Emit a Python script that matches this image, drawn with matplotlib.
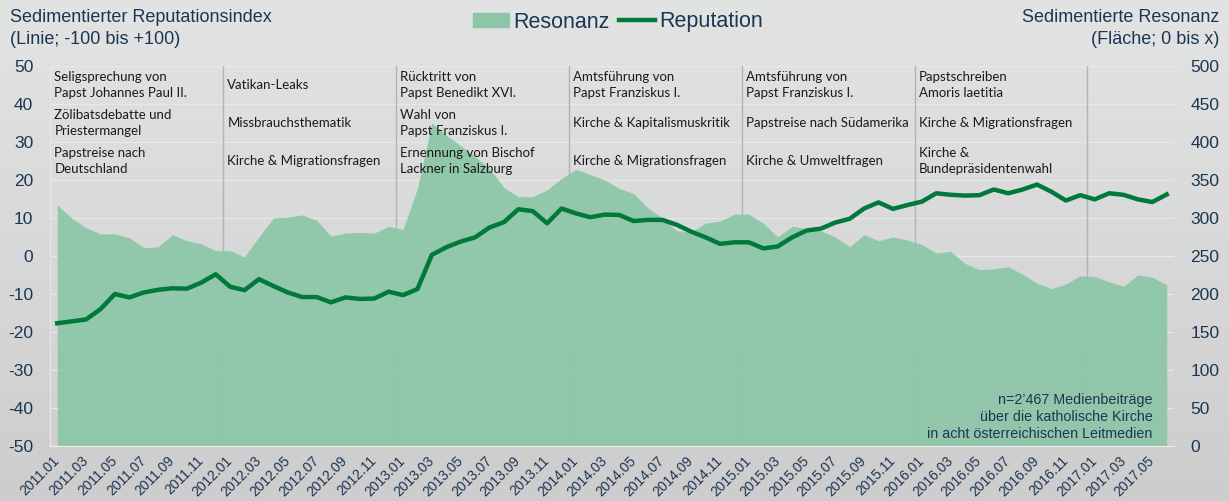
import numpy as np
import matplotlib
matplotlib.use("Agg")
import matplotlib.pyplot as plt
from matplotlib.colors import LinearSegmentedColormap
from matplotlib.patches import Patch
from matplotlib.lines import Line2D

plt.rcParams["axes.unicode_minus"] = False

# monthly values 2011.01 - 2017.06
months = [f"{y}.{m:02d}" for y in range(2011, 2018) for m in range(1, 13)][:78]

# Reputation (left axis, -100..+100)
reputation = [-17.7, -17.2, -16.7, -14.0, -10.0, -10.9, -9.6, -8.9, -8.5, -8.6,
              -7.0, -4.8, -8.1, -9.0, -6.1, -7.9, -9.6, -10.8, -10.8, -12.2,
              -10.9, -11.3, -11.2, -9.4, -10.3, -8.7, 0.3, 2.3, 3.8, 4.9,
              7.5, 8.9, 12.3, 11.8, 8.6, 12.5, 11.2, 10.2, 10.9, 10.8,
              9.2, 9.5, 9.5, 8.2, 6.4, 4.9, 3.2, 3.6, 3.6, 2.0,
              2.5, 4.9, 6.7, 7.2, 8.8, 9.8, 12.5, 14.1, 12.4, 13.4,
              14.3, 16.5, 16.1, 15.9, 16.0, 17.5, 16.5, 17.5, 18.8, 16.9,
              14.6, 16.0, 14.9, 16.5, 16.1, 14.9, 14.2, 16.2]

# Resonanz (right axis, 0..x)
resonanz = [317, 300, 287, 279, 279, 274, 261, 262, 278, 270,
            266, 257, 257, 249, 275, 300, 301, 304, 297, 276,
            280, 281, 280, 289, 285, 339, 425, 409, 395, 381,
            365, 340, 328, 328, 337, 352, 364, 357, 350, 339,
            332, 313, 300, 283, 282, 293, 296, 305, 305, 293,
            275, 289, 286, 283, 275, 262, 278, 270, 275, 271,
            265, 254, 256, 240, 232, 233, 236, 226, 214, 207,
            213, 224, 223, 216, 210, 225, 222, 212]

# topics per year (3 rows)
topics = [
    ["Seligsprechung von\nPapst Johannes Paul II.", "Zölibatsdebatte und\nPriestermangel", "Papstreise nach\nDeutschland"],
    ["Vatikan-Leaks", "Missbrauchsthematik", "Kirche & Migrationsfragen"],
    ["Rücktritt von\nPapst Benedikt XVI.", "Wahl von\nPapst Franziskus I.", "Ernennung von Bischof\nLackner in Salzburg"],
    ["Amtsführung von\nPapst Franziskus I.", "Kirche & Kapitalismuskritik", "Kirche & Migrationsfragen"],
    ["Amtsführung von\nPapst Franziskus I.", "Papstreise nach Südamerika", "Kirche & Umweltfragen"],
    ["Papstschreiben\nAmoris laetitia", "Kirche & Migrationsfragen", "Kirche &\nBundepräsidentenwahl"],
]
row_y = [45, 35, 25]

navy = "#1d3553"
area_col = "#8cc6a8"
line_col = "#00793a"

fig = plt.figure(figsize=(12.29, 5.01), dpi=100)

# gray gradient background
bg = fig.add_axes([0, 0, 1, 1], zorder=-10)
cmap = LinearSegmentedColormap.from_list("bg", ["#e2e4e3", "#cdcdcd"])
bg.imshow(np.linspace(0, 1, 256).reshape(-1, 1), aspect="auto", cmap=cmap,
          extent=[0, 1, 0, 1])
bg.axis("off")

ax2 = fig.add_axes([0.0407, 0.1098, 0.9145, 0.7585])
ax = ax2.twinx()
ax2.yaxis.tick_right()
ax.yaxis.tick_left()
ax.set_zorder(2)
ax2.set_zorder(1)
ax.patch.set_visible(False)
ax2.patch.set_visible(False)

x = np.arange(len(months))

# gridlines and year separators behind the area
for v in range(0, 501, 50):
    ax2.axhline(v, color="#e7e8e8", lw=0.9, zorder=0)
for s in range(12, 78, 12):
    ax2.axvline(s - 0.5, color="#b3b3b3", lw=1.0, zorder=0.5)

ax2.fill_between(x, 0, resonanz, color=area_col, alpha=0.93, lw=0, zorder=1)
ax.plot(x, reputation, color=line_col, lw=3.2, solid_joinstyle="round", zorder=3)

ax.set_xlim(-0.5, len(months) - 0.5)
ax2.set_xlim(-0.5, len(months) - 0.5)
ax.set_ylim(-50, 50)
ax2.set_ylim(0, 500)
ax.set_yticks(range(-50, 51, 10))
ax2.set_yticks(range(0, 501, 50))

ax2.set_xticks(x[::2])
ax2.set_xticklabels(months[::2], rotation=45, ha="right", va="center",
                    rotation_mode="anchor", fontsize=10, color=navy,
                    family="Liberation Sans")
ax.tick_params(axis="y", length=0, pad=12, labelsize=12.5, labelcolor=navy)
ax2.tick_params(axis="y", length=0, pad=12, labelsize=12.5, labelcolor=navy)
ax2.tick_params(axis="x", length=0, pad=9)
ax.tick_params(axis="x", length=0, labelbottom=False)
for a in (ax, ax2):
    for lab in a.get_yticklabels():
        lab.set_family("Liberation Sans")
    for sp in a.spines.values():
        sp.set_visible(False)
ax2.spines["bottom"].set_visible(True)
ax2.spines["bottom"].set_color("#e9eef0")
ax2.spines["left"].set_visible(True)
ax2.spines["left"].set_color("#e6e8e8")

# topic table
for i, col in enumerate(topics):
    for txt, yy in zip(col, row_y):
        ax.text(i * 12 - 0.5 + 0.3, yy, txt, ha="left", va="center", fontsize=9.5,
                family="Lato", color="#1a1a1a", linespacing=1.45, zorder=4)

# note
ax.text(0.981, 0.012, "n=2\u2019467 Medienbeiträge\nüber die katholische Kirche\nin acht österreichischen Leitmedien",
        transform=ax.transAxes, ha="right", va="bottom", fontsize=10.3,
        family="Liberation Sans", color=navy, linespacing=1.28, zorder=4)

# axis titles
fig.text(10 / 1229, 1 - 17 / 501, "Sedimentierter Reputationsindex", ha="left", va="center",
         fontsize=13, family="Liberation Sans", color=navy)
fig.text(10 / 1229, 1 - 39 / 501, "(Linie; -100 bis +100)", ha="left", va="center",
         fontsize=13, family="Liberation Sans", color=navy)
fig.text(1219 / 1229, 1 - 17 / 501, "Sedimentierte Resonanz", ha="right", va="center",
         fontsize=13, family="Liberation Sans", color=navy)
fig.text(1219 / 1229, 1 - 39 / 501, "(Fläche; 0 bis x)", ha="right", va="center",
         fontsize=13, family="Liberation Sans", color=navy)

# legend
handles = [Patch(color=area_col, label="Resonanz"),
           Line2D([], [], color=line_col, lw=3.2, label="Reputation")]
fig.legend(handles=handles, loc="center", bbox_to_anchor=(618 / 1229, 1 - 22 / 501),
           ncol=2, frameon=False, prop={"family": "Liberation Sans", "size": 15.5},
           labelcolor=navy, handlelength=1.7, handleheight=0.6, handletextpad=0.2,
           columnspacing=0.4)

fig.savefig("out.png", dpi=100)
